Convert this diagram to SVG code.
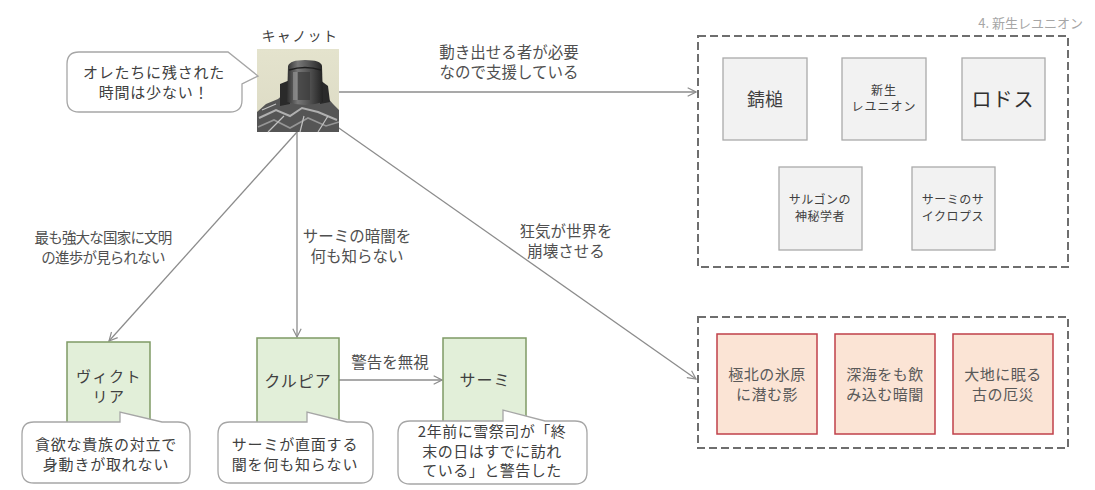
<svg xmlns="http://www.w3.org/2000/svg" width="1095" height="490" viewBox="0 0 1095 490">
<style>
  text { font-family: "Noto Sans CJK JP", "Noto Sans", "Liberation Sans", sans-serif; fill: #404040; text-anchor: middle; }
  .lbl { font-size: 15.5px; fill: #505050; }
  .t15 { font-size: 15px; }
  .bub { fill: #ffffff; stroke: #a6a6a6; stroke-width: 1.3; }
  .grn { fill: #e2efd9; stroke: #7f9a65; stroke-width: 1.5; }
  .gry { fill: #f2f2f2; stroke: #aaaaaa; stroke-width: 1.3; }
  .red { fill: #fbe4d5; stroke: #c0404a; stroke-width: 1.5; }
  .redt { font-size: 15px; fill: #595959; letter-spacing: 0.5px; }
  .grp { fill: none; stroke: #6e6e6e; stroke-width: 2; stroke-dasharray: 8 4; }
  .edge { fill: none; stroke: #8c8c8c; stroke-width: 1.3; marker-end: url(#arr); }
</style>
<defs>
  <marker id="arr" viewBox="0 0 12 12" refX="11" refY="6" markerWidth="10" markerHeight="10" markerUnits="userSpaceOnUse" orient="auto">
    <path d="M1,1 L11,6 L1,11" fill="none" stroke="#8c8c8c" stroke-width="1.4"/>
  </marker>
  <linearGradient id="helm" x1="0" y1="0" x2="1" y2="0">
    <stop offset="0" stop-color="#2f2f2f"/>
    <stop offset="0.3" stop-color="#777777"/>
    <stop offset="0.6" stop-color="#555555"/>
    <stop offset="1" stop-color="#222222"/>
  </linearGradient>
  <linearGradient id="bg" x1="0" y1="0" x2="0" y2="1">
    <stop offset="0" stop-color="#e4e3cd"/>
    <stop offset="1" stop-color="#dcdac4"/>
  </linearGradient>
</defs>

<rect width="1095" height="490" fill="#ffffff"/>

<text x="1083" y="28" style="font-size:13px; fill:#a6a6a6; text-anchor:end;">4. 新生レユニオン</text>

<!-- groups -->
<g id="group-reunion">
  <rect class="grp" x="698" y="36" width="370" height="231"/>
</g>
<g id="group-disasters">
  <rect class="grp" x="698" y="317" width="370" height="131"/>
</g>

<!-- connectors -->
<g id="connectors">
  <line class="edge" x1="339" y1="92" x2="696" y2="92"/>
  <line class="edge" x1="336" y1="126" x2="696" y2="379"/>
  <line class="edge" x1="297" y1="132" x2="109" y2="341"/>
  <line class="edge" x1="297" y1="132" x2="297" y2="337"/>
  <line class="edge" x1="339" y1="380" x2="442" y2="380"/>
  <text class="lbl" x="509" y="58">動き出せる者が必要<tspan x="509" dy="20">なので支援している</tspan></text>
  <text class="lbl" x="103" y="243" style="font-size:14.5px; letter-spacing:-0.8px;">最も強大な国家に文明<tspan x="103" dy="20">の進歩が見られない</tspan></text>
  <text class="lbl" x="357" y="242">サーミの暗闇を<tspan x="357" dy="20">何も知らない</tspan></text>
  <text class="lbl" x="566" y="237">狂気が世界を<tspan x="566" dy="20">崩壊させる</tspan></text>
  <text class="lbl" x="390" y="368">警告を無視</text>
</g>

<!-- Kyanot -->
<g id="node-kyanot">
  <text x="300" y="41" style="font-size:14px; letter-spacing:1.5px;">キャノット</text>
  <rect x="257" y="49" width="82" height="83" fill="url(#bg)"/>
  <path d="M257,112 L266,104 L278,99 L286,92 L318,92 L326,96 L333,104 L339,110 L339,132 L257,132 Z" fill="#555555"/>
  <path d="M259,118 L276,110 L290,116 L302,108 L318,112 L337,120" fill="none" stroke="#b0b0b0" stroke-width="2"/>
  <path d="M258,127 L274,120 L290,128 L308,118 L326,126 L339,122" fill="none" stroke="#969696" stroke-width="1.6"/>
  <path d="M268,132 L284,116 M300,132 L304,116 M318,132 L328,116 M262,110 L276,104" stroke="#c2c2c2" stroke-width="1.2"/>
  <path d="M280,84 L290,80 L290,104 L280,106 Z" fill="#2a2a2a"/>
  <path d="M320,80 L328,86 L330,102 L320,104 Z" fill="#2a2a2a"/>
  <path d="M288,66 Q290,60 305,60 Q321,60 322,66 L323,102 Q305,108 287,102 Z" fill="url(#helm)"/>
  <path d="M289,70 Q305,65 321,70" fill="none" stroke="#1e1e1e" stroke-width="1.5"/>
  <rect x="298" y="72" width="12" height="28" fill="#3a3a3a" opacity="0.7"/>
  <rect x="293" y="72" width="4" height="28" fill="#9a9a9a" opacity="0.6"/>
</g>

<g id="bubble-kyanot">
  <path class="bub" d="M79,52 H228 L258,76 L242,84 V100 Q242,112 230,112 H79 Q67,112 67,100 V64 Q67,52 79,52 Z"/>
  <text class="t15" x="154" y="78" style="letter-spacing:0.8px;">オレたちに残された<tspan x="154" dy="20">時間は少ない！</tspan></text>
</g>

<!-- Reunion members -->
<g id="node-sabizuchi">
  <rect class="gry" x="723" y="58" width="84" height="82"/>
  <text x="765" y="106" style="font-size:18px;">錆槌</text>
</g>
<g id="node-shinsei">
  <rect class="gry" x="842" y="58" width="84" height="82"/>
  <text x="884" y="95" style="font-size:12px; letter-spacing:1px;">新生<tspan x="884" dy="16">レユニオン</tspan></text>
</g>
<g id="node-rhodes">
  <rect class="gry" x="962" y="58" width="83" height="82"/>
  <text x="1003" y="107" style="font-size:20px; fill:#303030; letter-spacing:1px;">ロドス</text>
</g>
<g id="node-sargon">
  <rect class="gry" x="779" y="167" width="83" height="83"/>
  <text x="820" y="204" style="font-size:12px; letter-spacing:0.5px;">サルゴンの<tspan x="820" dy="17">神秘学者</tspan></text>
</g>
<g id="node-cyclops">
  <rect class="gry" x="912" y="167" width="83" height="83"/>
  <text x="953" y="204" style="font-size:12px; letter-spacing:0.5px;">サーミのサ<tspan x="953" dy="17">イクロプス</tspan></text>
</g>

<!-- Disasters -->
<g id="node-kyokuhoku">
  <rect class="red" x="717" y="334" width="100" height="100"/>
  <text class="redt" x="767" y="380">極北の氷原<tspan x="767" dy="19.5">に潜む影</tspan></text>
</g>
<g id="node-shinkai">
  <rect class="red" x="835" y="334" width="100" height="100"/>
  <text class="redt" x="885" y="380">深海をも飲<tspan x="885" dy="19.5">み込む暗闇</tspan></text>
</g>
<g id="node-daichi">
  <rect class="red" x="953" y="334" width="100" height="100"/>
  <text class="redt" x="1003" y="380">大地に眠る<tspan x="1003" dy="19.5">古の厄災</tspan></text>
</g>

<!-- Victoria -->
<g id="node-victoria">
  <rect class="grn" x="67" y="342" width="83" height="90"/>
  <text class="t15" x="109" y="382" style="letter-spacing:1.5px;">ヴィクト<tspan x="109" dy="19.5">リア</tspan></text>
  <path class="bub" d="M34,422 H120 V412 L162,422 H178 Q190,422 190,434 V471 Q190,483 178,483 H34 Q22,483 22,471 V434 Q22,422 34,422 Z"/>
  <text class="t15" x="106" y="450" style="letter-spacing:0.8px;">貪欲な貴族の対立で<tspan x="106" dy="19.5">身動きが取れない</tspan></text>
</g>

<!-- Kurupia -->
<g id="node-kurupia">
  <rect class="grn" x="257" y="338" width="82" height="94"/>
  <text x="298" y="387" style="font-size:16px; letter-spacing:1px;">クルピア</text>
  <path class="bub" d="M230,422 H307 V412 L347,422 H361 Q373,422 373,434 V471 Q373,483 361,483 H230 Q218,483 218,471 V434 Q218,422 230,422 Z"/>
  <text class="t15" x="295" y="450" style="letter-spacing:0.8px;">サーミが直面する<tspan x="295" dy="19.5">闇を何も知らない</tspan></text>
</g>

<!-- Sami -->
<g id="node-sami">
  <rect class="grn" x="443" y="338" width="83" height="94"/>
  <text x="485" y="386" style="font-size:16px; letter-spacing:1px;">サーミ</text>
  <path class="bub" d="M410,421 H503 V410 L545,421 H575 Q587,421 587,433 V472 Q587,484 575,484 H410 Q398,484 398,472 V433 Q398,421 410,421 Z"/>
  <text class="t15" x="492" y="437" style="letter-spacing:0.5px;">2年前に雪祭司が「終<tspan x="492" dy="19.5">末の日はすでに訪れ</tspan><tspan x="492" dy="19.5">ている」と警告した</tspan></text>
</g>
</svg>
